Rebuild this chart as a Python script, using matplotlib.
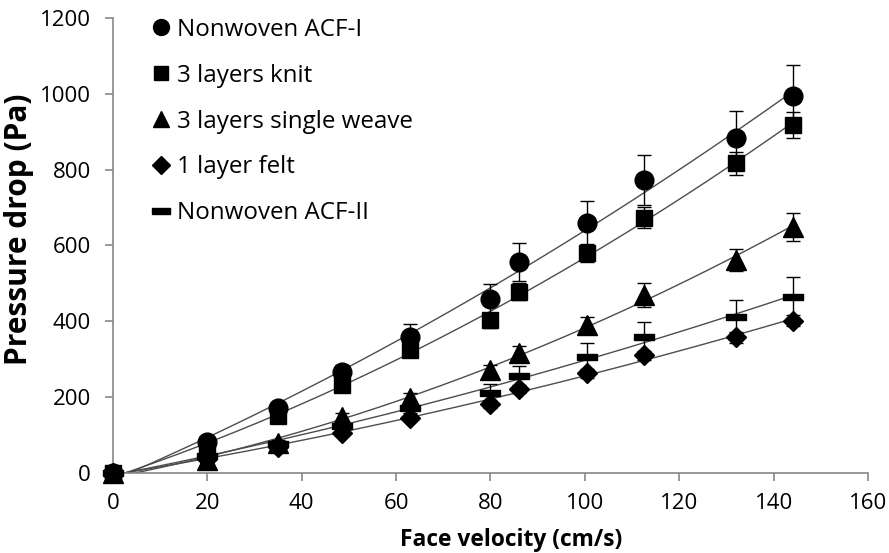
import numpy as np
import matplotlib
matplotlib.use("Agg")
import matplotlib.pyplot as plt
from matplotlib.lines import Line2D

# Face velocity (cm/s)
velocity = [0, 20, 35, 48.5, 63, 80, 86, 100.5, 112.5, 132, 144]

# Pressure drop (Pa) per filter medium
acf1 = [0, 82, 172, 267, 358, 459, 557, 660, 773, 884, 994]
knit = [0, 66, 150, 232, 324, 403, 478, 580, 673, 817, 918]
weave = [0, 33, 80, 148, 198, 272, 317, 390, 470, 562, 649]
felt = [0, 38, 68, 106, 146, 181, 221, 263, 311, 358, 402]
acf2 = [0, 45, 77, 125, 172, 211, 256, 306, 359, 412, 464]

# Standard deviations
acf1_err = [0, 10, 12, 18, 34, 39, 50, 58, 66, 71, 83]
knit_err = [0, 8, 10, 14, 18, 20, 22, 24, 28, 30, 35]
weave_err = [0, 6, 8, 10, 12, 14, 18, 22, 31, 29, 36]
felt_err = [0, 4, 5, 6, 8, 10, 10, 12, 12, 14, 14]
acf2_err = [0, 6, 8, 10, 14, 24, 26, 37, 39, 44, 54]

labels = ["Nonwoven ACF-I", "3 layers knit", "3 layers single weave",
          "1 layer felt", "Nonwoven ACF-II"]

dash = [(-1, -0.32), (1, -0.32), (1, 0.32), (-1, 0.32), (-1, -0.32)]
series = [
    (acf1, acf1_err, "o", 13.5),
    (knit, knit_err, "s", 12),
    (weave, weave_err, "^", 14),
    (felt, felt_err, "D", 10.5),
    (acf2, acf2_err, dash, 15),
]

plt.rcParams["font.family"] = ["Open Sans", "DejaVu Sans"]

fig = plt.figure(figsize=(8.89, 5.53), dpi=100)
ax = fig.add_axes([0.127, 0.1447, 0.8494, 0.8228])

x = np.array(velocity, dtype=float)
xs = np.linspace(0, x.max(), 200)
for vals, err, mk, ms in series:
    y = np.array(vals, dtype=float)
    coef = np.polyfit(x, y, 2)
    ax.plot(xs, np.polyval(coef, xs), color="#4d4d4d", lw=1.0, zorder=2)
    ax.errorbar(x, y, yerr=err, fmt="none", ecolor="black", elinewidth=1.0,
                capsize=5, capthick=1.0, zorder=3, clip_on=False)
    ax.plot(x, y, linestyle="none", marker=mk, markersize=ms, color="black",
            markeredgecolor="black", zorder=4, clip_on=False)

ax.set_xlim(0, 160)
ax.set_ylim(0, 1200)
ax.set_xticks(np.arange(0, 161, 20))
ax.set_yticks(np.arange(0, 1201, 200))

for side in ("top", "right"):
    ax.spines[side].set_visible(False)
for side in ("left", "bottom"):
    ax.spines[side].set_color("#888888")
    ax.spines[side].set_linewidth(1.2)
ax.tick_params(direction="out", length=6, width=1.2, color="#888888",
               labelsize=16)
ax.tick_params(axis="x", pad=8.5)
ax.tick_params(axis="y", pad=10)

ax.set_xlabel("Face velocity (cm/s)", fontsize=16.4, fontweight="bold")
ax.set_ylabel("Pressure drop (Pa)", fontsize=21.5, fontweight="bold")
ax.xaxis.set_label_coords(0.527, -0.12)
ax.yaxis.set_label_coords(-0.105, 0.535)

handles = [Line2D([], [], linestyle="none", marker=mk, markersize=ms * 0.85,
                  color="black") for _, _, mk, ms in series]
ax.legend(handles, labels, loc="upper left", bbox_to_anchor=(0.053, 1.001),
          frameon=False, fontsize=17.4, labelspacing=0.91, handlelength=0.7,
          handletextpad=0.3, borderaxespad=0, borderpad=0)

fig.savefig("out.png", dpi=100)
